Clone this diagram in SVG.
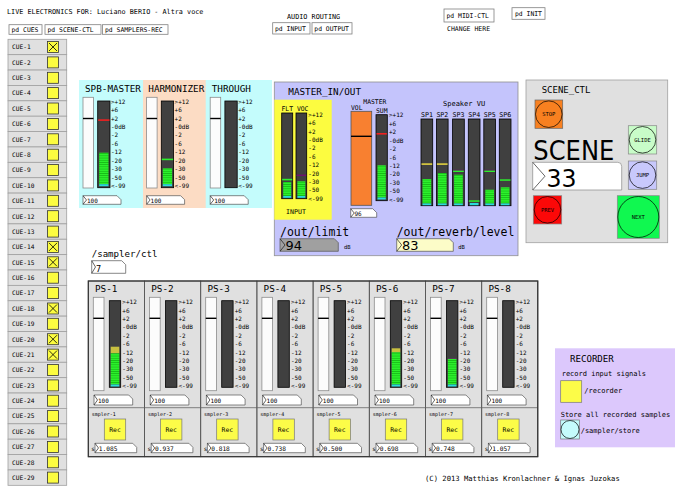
<svg xmlns="http://www.w3.org/2000/svg" width="681" height="490" viewBox="0 0 681 490">
<style>
text{font-family:"DejaVu Sans Mono","Liberation Mono",monospace;fill:#000}
.bx{fill:#fff;stroke:#808080;stroke-width:.8}
.cue{fill:#e0e0e0;stroke:#a0a0a0;stroke-width:.8}
.tg{fill:#fcfc40;stroke:#333;stroke-width:.8}
.x{stroke:#000;stroke-width:.8}
.sl{fill:#fcfcfc;stroke:#8c8c8c;stroke-width:.8}
.hd{stroke:#000;stroke-width:1.4}
.vu{fill:#404040;stroke:#000;stroke-width:.8}
.nb{fill:#fff;stroke:#555;stroke-width:.7}
.tri{fill:none;stroke:#000;stroke-width:.6}
.sc{font-size:6px}
.s6{font-size:6px}
.s7{font-size:7px}
.s9{font-size:9.3px}
.gr{fill:url(#g)}
.cy{fill:#28dcdc}
.big{font-family:"DejaVu Sans",sans-serif}
</style>
<defs>
<pattern id="g" width="6" height="2.2" patternUnits="userSpaceOnUse"><rect width="6" height="2.2" fill="#14b814"/><rect width="6" height="1.5" fill="#2cf02c"/></pattern>
</defs>

<g id="header">
<text x="7" y="13.5" style="font-size:6.8px">LIVE ELECTRONICS FOR: Luciano BERIO - Altra voce</text>
<text x="287" y="18.5" style="font-size:6.8px">AUDIO ROUTING</text>
<text x="447" y="30.5" style="font-size:6.5px">CHANGE HERE</text>
<text x="425" y="481" style="font-size:7.2px">(C) 2013 Matthias Kronlachner &amp; Ignas Juzokas</text>
</g>
<g id="pd-cues"><rect class="bx" x="9" y="24.7" width="33" height="9.6"/><text x="11.5" y="32.3" style="font-size:6.4px">pd CUES</text></g>
<g id="pd-scene"><rect class="bx" x="45" y="24.7" width="56" height="9.6"/><text x="47.5" y="32.3" style="font-size:6.4px">pd SCENE-CTL</text></g>
<g id="pd-samplers"><rect class="bx" x="102.5" y="24.7" width="65.5" height="9.6"/><text x="105" y="32.3" style="font-size:6.4px">pd SAMPLERS-REC</text></g>
<g id="pd-input"><rect class="bx" x="272.7" y="22.7" width="37.3" height="11.3"/><text x="275" y="31" style="font-size:6.4px">pd INPUT</text></g>
<g id="pd-output"><rect class="bx" x="312" y="22.7" width="40" height="11.3"/><text x="314.3" y="31" style="font-size:6.4px">pd OUTPUT</text></g>
<g id="pd-midi"><rect class="bx" x="444" y="9" width="50" height="13"/><text x="446.5" y="18" style="font-size:6.4px">pd MIDI-CTL</text></g>
<g id="pd-init"><rect class="bx" x="512" y="7.7" width="33" height="11.6"/><text x="515" y="16" style="font-size:6.4px">pd INIT</text></g>

<g id="cues" style="font-size:6.2px">
<rect class="cue" x="8" y="39.3" width="58.7" height="15.38"/><text x="12" y="49.3">CUE-1</text><rect class="tg" x="47.5" y="41.5" width="11" height="11"/><path class="x" d="M49 43l8 8M57 43l-8 8"/>
<rect class="cue" x="8" y="54.68" width="58.7" height="15.38"/><text x="12" y="64.7">CUE-2</text><rect class="tg" x="47.5" y="56.9" width="11" height="11"/>
<rect class="cue" x="8" y="70.06" width="58.7" height="15.38"/><text x="12" y="80.1">CUE-3</text><rect class="tg" x="47.5" y="72.3" width="11" height="11"/>
<rect class="cue" x="8" y="85.44" width="58.7" height="15.38"/><text x="12" y="95.4">CUE-4</text><rect class="tg" x="47.5" y="87.6" width="11" height="11"/>
<rect class="cue" x="8" y="100.82" width="58.7" height="15.38"/><text x="12" y="110.8">CUE-5</text><rect class="tg" x="47.5" y="103" width="11" height="11"/>
<rect class="cue" x="8" y="116.2" width="58.7" height="15.38"/><text x="12" y="126.2">CUE-6</text><rect class="tg" x="47.5" y="118.4" width="11" height="11"/>
<rect class="cue" x="8" y="131.58" width="58.7" height="15.38"/><text x="12" y="141.6">CUE-7</text><rect class="tg" x="47.5" y="133.8" width="11" height="11"/>
<rect class="cue" x="8" y="146.96" width="58.7" height="15.38"/><text x="12" y="157">CUE-8</text><rect class="tg" x="47.5" y="149.2" width="11" height="11"/>
<rect class="cue" x="8" y="162.34" width="58.7" height="15.38"/><text x="12" y="172.3">CUE-9</text><rect class="tg" x="47.5" y="164.5" width="11" height="11"/>
<rect class="cue" x="8" y="177.72" width="58.7" height="15.38"/><text x="12" y="187.7">CUE-10</text><rect class="tg" x="47.5" y="179.9" width="11" height="11"/>
<rect class="cue" x="8" y="193.1" width="58.7" height="15.38"/><text x="12" y="203.1">CUE-11</text><rect class="tg" x="47.5" y="195.3" width="11" height="11"/>
<rect class="cue" x="8" y="208.48" width="58.7" height="15.38"/><text x="12" y="218.5">CUE-12</text><rect class="tg" x="47.5" y="210.7" width="11" height="11"/>
<rect class="cue" x="8" y="223.86" width="58.7" height="15.38"/><text x="12" y="233.9">CUE-13</text><rect class="tg" x="47.5" y="226.1" width="11" height="11"/>
<rect class="cue" x="8" y="239.24" width="58.7" height="15.38"/><text x="12" y="249.2">CUE-14</text><rect class="tg" x="47.5" y="241.4" width="11" height="11"/><path class="x" d="M49 242.9l8 8M57 242.9l-8 8"/>
<rect class="cue" x="8" y="254.62" width="58.7" height="15.38"/><text x="12" y="264.6">CUE-15</text><rect class="tg" x="47.5" y="256.8" width="11" height="11"/><path class="x" d="M49 258.3l8 8M57 258.3l-8 8"/>
<rect class="cue" x="8" y="270" width="58.7" height="15.38"/><text x="12" y="280">CUE-16</text><rect class="tg" x="47.5" y="272.2" width="11" height="11"/>
<rect class="cue" x="8" y="285.38" width="58.7" height="15.38"/><text x="12" y="295.4">CUE-17</text><rect class="tg" x="47.5" y="287.6" width="11" height="11"/>
<rect class="cue" x="8" y="300.76" width="58.7" height="15.38"/><text x="12" y="310.8">CUE-18</text><rect class="tg" x="47.5" y="303" width="11" height="11"/><path class="x" d="M49 304.5l8 8M57 304.5l-8 8"/>
<rect class="cue" x="8" y="316.14" width="58.7" height="15.38"/><text x="12" y="326.1">CUE-19</text><rect class="tg" x="47.5" y="318.3" width="11" height="11"/>
<rect class="cue" x="8" y="331.52" width="58.7" height="15.38"/><text x="12" y="341.5">CUE-20</text><rect class="tg" x="47.5" y="333.7" width="11" height="11"/><path class="x" d="M49 335.2l8 8M57 335.2l-8 8"/>
<rect class="cue" x="8" y="346.9" width="58.7" height="15.38"/><text x="12" y="356.9">CUE-21</text><rect class="tg" x="47.5" y="349.1" width="11" height="11"/><path class="x" d="M49 350.6l8 8M57 350.6l-8 8"/>
<rect class="cue" x="8" y="362.28" width="58.7" height="15.38"/><text x="12" y="372.3">CUE-22</text><rect class="tg" x="47.5" y="364.5" width="11" height="11"/>
<rect class="cue" x="8" y="377.66" width="58.7" height="15.38"/><text x="12" y="387.7">CUE-23</text><rect class="tg" x="47.5" y="379.9" width="11" height="11"/>
<rect class="cue" x="8" y="393.04" width="58.7" height="15.38"/><text x="12" y="403">CUE-24</text><rect class="tg" x="47.5" y="395.2" width="11" height="11"/>
<rect class="cue" x="8" y="408.42" width="58.7" height="15.38"/><text x="12" y="418.4">CUE-25</text><rect class="tg" x="47.5" y="410.6" width="11" height="11"/>
<rect class="cue" x="8" y="423.8" width="58.7" height="15.38"/><text x="12" y="433.8">CUE-26</text><rect class="tg" x="47.5" y="426" width="11" height="11"/>
<rect class="cue" x="8" y="439.18" width="58.7" height="15.38"/><text x="12" y="449.2">CUE-27</text><rect class="tg" x="47.5" y="441.4" width="11" height="11"/>
<rect class="cue" x="8" y="454.56" width="58.7" height="15.38"/><text x="12" y="464.6">CUE-28</text><rect class="tg" x="47.5" y="456.8" width="11" height="11"/>
<rect class="cue" x="8" y="469.94" width="58.7" height="15.38"/><text x="12" y="479.9">CUE-29</text><rect class="tg" x="47.5" y="472.1" width="11" height="11"/>
</g>

<g id="spb-panel">
<rect x="79" y="80" width="193" height="128" fill="#c4fcfc"/>
<rect x="143" y="80" width="62.7" height="128" fill="#fcdcc4"/>
</g>
<g id="spb-master">
<text class="s9" x="85" y="91.5">SPB-MASTER</text>
<rect class="sl" x="83" y="97.3" width="10.5" height="90.7"/><line class="hd" x1="83" y1="118.5" x2="93.5" y2="118.5"/>
<rect class="vu" x="97.7" y="101" width="12.3" height="86.7"/>
<rect x="98.2" y="119.3" width="11.3" height="1.6" fill="#f02020"/>
<rect class="gr" x="99.2" y="152.7" width="9.3" height="31.5"/><rect class="cy" x="99.2" y="184.2" width="9.3" height="2"/>
<text class="sc" x="111"><tspan x="111" y="103.7">&gt;+12</tspan><tspan x="111" y="112.1">+6</tspan><tspan x="111" y="120.6">+2</tspan><tspan x="111" y="129">-0dB</tspan><tspan x="111" y="137.4">-2</tspan><tspan x="111" y="145.9">-6</tspan><tspan x="111" y="154.3">-12</tspan><tspan x="111" y="162.7">-20</tspan><tspan x="111" y="171.1">-30</tspan><tspan x="111" y="179.6">-50</tspan><tspan x="111" y="188">&lt;-99</tspan></text>
<path class="nb" d="M83 195.7h34l4 4v4.6h-38z"/><polyline class="tri" points="83,195.7 86.5,200 83,204.3"/><text class="s6" x="87" y="202.8">100</text>
</g>
<g id="harmonizer">
<text class="s9" x="148.3" y="91.5">HARMONIZER</text>
<rect class="sl" x="146.6" y="97.3" width="10.5" height="90.7"/><line class="hd" x1="146.6" y1="118.5" x2="157.1" y2="118.5"/>
<rect class="vu" x="161.3" y="101" width="12.3" height="86.7"/>
<rect x="161.8" y="158.6" width="11.3" height="1.6" fill="#2cf02c"/>
<rect class="gr" x="162.8" y="168.3" width="9.3" height="15.9"/><rect class="cy" x="162.8" y="184.2" width="9.3" height="2"/>
<text class="sc"><tspan x="174.6" y="103.7">&gt;+12</tspan><tspan x="174.6" y="112.1">+6</tspan><tspan x="174.6" y="120.6">+2</tspan><tspan x="174.6" y="129">-0dB</tspan><tspan x="174.6" y="137.4">-2</tspan><tspan x="174.6" y="145.9">-6</tspan><tspan x="174.6" y="154.3">-12</tspan><tspan x="174.6" y="162.7">-20</tspan><tspan x="174.6" y="171.1">-30</tspan><tspan x="174.6" y="179.6">-50</tspan><tspan x="174.6" y="188">&lt;-99</tspan></text>
<path class="nb" d="M146.6 195.7h34l4 4v4.6h-38z"/><polyline class="tri" points="146.6,195.7 150.1,200 146.6,204.3"/><text class="s6" x="150.6" y="202.8">100</text>
</g>
<g id="through">
<text class="s9" x="211.7" y="91.5">THROUGH</text>
<rect class="sl" x="210.2" y="97.3" width="10.5" height="90.7"/><line class="hd" x1="210.2" y1="118.5" x2="220.7" y2="118.5"/>
<rect class="vu" x="224.9" y="101" width="12.3" height="86.7"/>
<text class="sc"><tspan x="238.2" y="103.7">&gt;+12</tspan><tspan x="238.2" y="112.1">+6</tspan><tspan x="238.2" y="120.6">+2</tspan><tspan x="238.2" y="129">-0dB</tspan><tspan x="238.2" y="137.4">-2</tspan><tspan x="238.2" y="145.9">-6</tspan><tspan x="238.2" y="154.3">-12</tspan><tspan x="238.2" y="162.7">-20</tspan><tspan x="238.2" y="171.1">-30</tspan><tspan x="238.2" y="179.6">-50</tspan><tspan x="238.2" y="188">&lt;-99</tspan></text>
<path class="nb" d="M210.2 195.7h34l4 4v4.6h-38z"/><polyline class="tri" points="210.2,195.7 213.7,200 210.2,204.3"/><text class="s6" x="214.2" y="202.8">100</text>
</g>

<g id="master-panel">
<rect x="274.3" y="82" width="243.7" height="173.7" fill="#c4c4fc" stroke="#909090" stroke-width=".8"/>
<text class="s9" x="288.3" y="95">MASTER_IN/OUT</text>
</g>
<g id="input">
<rect x="274.3" y="99.7" width="57.4" height="120" fill="#fcfc40"/>
<text style="font-size:6.4px" x="281.5" y="110.8">FLT VOC</text>
<rect class="vu" x="281.7" y="113" width="11" height="85.7"/>
<rect x="282.2" y="178.8" width="10" height="1.6" fill="#2cf02c"/>
<rect class="gr" x="283.2" y="182" width="8" height="14"/><rect class="cy" x="283.2" y="196" width="8" height="1.8"/>
<rect class="vu" x="296" y="113" width="10.7" height="85.7"/>
<rect x="296.5" y="174.6" width="9.7" height="1.4" fill="#701070"/>
<rect class="gr" x="297.4" y="181.3" width="7.9" height="14.7"/><rect class="cy" x="297.4" y="196" width="7.9" height="1.8"/>
<text class="sc"><tspan x="308.3" y="116.7">&gt;+12</tspan><tspan x="308.3" y="125.1">+6</tspan><tspan x="308.3" y="133.5">+2</tspan><tspan x="308.3" y="141.9">-0dB</tspan><tspan x="308.3" y="150.3">-2</tspan><tspan x="308.3" y="158.7">-6</tspan><tspan x="308.3" y="167.1">-12</tspan><tspan x="308.3" y="175.5">-20</tspan><tspan x="308.3" y="183.9">-30</tspan><tspan x="308.3" y="192.3">-50</tspan><tspan x="308.3" y="200.7">&lt;-99</tspan></text>
<text style="font-size:6.6px" x="286" y="214.3">INPUT</text>
</g>
<g id="master-vol">
<text style="font-size:6.4px" x="363.3" y="103.5">MASTER</text>
<text style="font-size:6.4px" x="351" y="109.5">VOL</text>
<text style="font-size:6.4px" x="376" y="112.5">SUM</text>
<rect x="351" y="111.3" width="20.7" height="94" fill="#f88030" stroke="#555" stroke-width=".8"/>
<line class="hd" x1="351" y1="136.3" x2="371.7" y2="136.3"/>
<rect class="vu" x="376" y="114.7" width="11.3" height="86"/>
<rect x="376.5" y="133" width="10.3" height="1.6" fill="#f02020"/>
<rect class="gr" x="377.5" y="165.3" width="8.3" height="32.2"/><rect class="cy" x="377.5" y="197.5" width="8.3" height="2"/>
<text class="sc"><tspan x="389" y="117.3">&gt;+12</tspan><tspan x="389" y="125.7">+6</tspan><tspan x="389" y="134.2">+2</tspan><tspan x="389" y="142.6">-0dB</tspan><tspan x="389" y="151.1">-2</tspan><tspan x="389" y="159.5">-6</tspan><tspan x="389" y="167.9">-12</tspan><tspan x="389" y="176.4">-20</tspan><tspan x="389" y="184.8">-30</tspan><tspan x="389" y="193.3">-50</tspan><tspan x="389" y="201.7">&lt;-99</tspan></text>
<path class="nb" d="M350.7 208.7h22l4 4v4.6h-26z"/><polyline class="tri" points="350.7,208.7 354.2,213 350.7,217.3"/><text class="s6" x="354.5" y="215.8">96</text>
</g>
<g id="speaker-vu">
<text class="s7" x="443" y="106">Speaker VU</text>
<text style="font-size:6.6px"><tspan x="421" y="117">SP1</tspan><tspan x="436.4" y="117">SP2</tspan><tspan x="452.6" y="117">SP3</tspan><tspan x="468.3" y="117">SP4</tspan><tspan x="483.8" y="117">SP5</tspan><tspan x="499.3" y="117">SP6</tspan></text>
<rect class="vu" x="421" y="119" width="11.7" height="86.7"/>
<rect x="421.5" y="163.3" width="10.7" height="1.6" fill="#e0d040"/>
<rect class="gr" x="422.5" y="179" width="8.7" height="24.5"/><rect class="cy" x="422.5" y="203.5" width="8.7" height="1.7"/>
<rect class="vu" x="436.4" y="119" width="11.7" height="86.7"/>
<rect x="436.9" y="163.3" width="10.7" height="1.6" fill="#e0d040"/>
<rect class="gr" x="437.9" y="173" width="8.7" height="30.5"/><rect class="cy" x="437.9" y="203.5" width="8.7" height="1.7"/>
<rect class="vu" x="452.6" y="119" width="11.7" height="86.7"/>
<rect x="453.1" y="169.8" width="10.7" height="0.8" fill="#701070"/><rect x="453.1" y="170.6" width="10.7" height="1.4" fill="#2cf02c"/>
<rect class="gr" x="454.1" y="174.7" width="8.7" height="28.8"/><rect class="cy" x="454.1" y="203.5" width="8.7" height="1.7"/>
<rect class="vu" x="468.3" y="119" width="11.7" height="86.7"/>
<rect x="468.8" y="200.3" width="10.7" height="1.5" fill="#2cf02c"/><rect class="cy" x="469.8" y="203" width="8.7" height="2.2"/>
<rect class="vu" x="483.8" y="119" width="11.7" height="86.7"/>
<rect x="484.3" y="169.8" width="10.7" height="0.8" fill="#701070"/><rect x="484.3" y="170.6" width="10.7" height="1.4" fill="#2cf02c"/>
<rect class="gr" x="485.3" y="189.7" width="8.7" height="13.8"/><rect class="cy" x="485.3" y="203.5" width="8.7" height="1.7"/>
<rect class="vu" x="499.3" y="119" width="11.7" height="86.7"/>
<rect x="499.8" y="179.3" width="10.7" height="1.5" fill="#2cf02c"/>
<rect class="gr" x="500.8" y="187.3" width="8.7" height="16.2"/><rect class="cy" x="500.8" y="203.5" width="8.7" height="1.7"/>
</g>
<g id="out-limit">
<text x="280" y="235.5" style="font-size:11.5px">/out/limit</text>
<path d="M280 238.7h54.3l4 4v8.6h-58.3z" fill="#a0a0a0" stroke="#555" stroke-width=".7"/>
<polyline class="tri" points="280,238.7 285,245 280,251.3"/>
<text class="big" x="285.5" y="250" style="font-size:13px">94</text>
<text x="344" y="249" style="font-size:5.5px">dB</text>
</g>
<g id="out-reverb">
<text x="396.7" y="235.5" style="font-size:11.5px">/out/reverb/level</text>
<path d="M396.7 238.7h52.6l4 4v8.6h-56.6z" fill="#fcfcc8" stroke="#555" stroke-width=".7"/>
<polyline class="tri" points="396.7,238.7 401.7,245 396.7,251.3"/>
<text class="big" x="402" y="250" style="font-size:13px">83</text>
<text x="458.3" y="249" style="font-size:5.5px">dB</text>
</g>

<g id="scene-ctl">
<rect x="526" y="80" width="141.7" height="162.7" fill="#e0e0e0" stroke="#a0a0a0" stroke-width=".8"/>
<text x="541.7" y="93" style="font-size:9px">SCENE_CTL</text>
<text class="big" x="533.3" y="160" style="font-size:27px" textLength="81" lengthAdjust="spacingAndGlyphs">SCENE</text>
<path d="M532.7 162.3h85a4 4 0 0 1 4 4v23.7h-89z" fill="#fff" stroke="#888" stroke-width=".7"/>
<polyline class="tri" points="532.7,162.3 545,176.2 532.7,190"/>
<text class="big" x="546.5" y="187" style="font-size:24px" textLength="30" lengthAdjust="spacingAndGlyphs">33</text>
</g>
<g id="btn-stop"><rect x="535" y="100" width="27.7" height="28.3" fill="#f88020" stroke="#666" stroke-width=".7"/><circle cx="548.8" cy="114.2" r="13.3" fill="#f88020" stroke="#000" stroke-width=".7"/><text x="548.8" y="116" text-anchor="middle" style="font-size:5.5px">STOP</text></g>
<g id="btn-glide"><rect x="628.3" y="125.7" width="28.4" height="28.3" fill="#c8fcc8" stroke="#888" stroke-width=".7"/><circle cx="642.5" cy="139.8" r="13.3" fill="#c8fcc8" stroke="#000" stroke-width=".7"/><text x="642.5" y="141.8" text-anchor="middle" style="font-size:5.5px">GLIDE</text></g>
<g id="btn-jump"><rect x="628.3" y="161" width="28.4" height="28.3" fill="#c8c8fc" stroke="#888" stroke-width=".7"/><circle cx="642.5" cy="175.1" r="13.3" fill="#c8c8fc" stroke="#000" stroke-width=".7"/><text x="642.5" y="177.1" text-anchor="middle" style="font-size:5.5px">JUMP</text></g>
<g id="btn-prev"><rect x="533.3" y="195.7" width="28.4" height="28.3" fill="#fc0808" stroke="#888" stroke-width=".7"/><circle cx="547.5" cy="209.8" r="13.3" fill="#fc0808" stroke="#000" stroke-width=".7"/><text x="547.5" y="211.8" text-anchor="middle" style="font-size:5.5px">PREV</text></g>
<g id="btn-next"><rect x="617.3" y="195.7" width="42" height="42.6" fill="#10f850" stroke="#888" stroke-width=".7"/><circle cx="638.3" cy="217" r="20.5" fill="#10f850" stroke="#000" stroke-width=".7"/><text x="638.3" y="219" text-anchor="middle" style="font-size:5.5px">NEXT</text></g>

<g id="sampler-ctl">
<text x="91.7" y="256.5" style="font-size:9.1px">/sampler/ctl</text>
<path class="nb" d="M91.7 260.7h30l4 4v8.6h-34z"/><polyline class="tri" points="91.7,260.7 95.5,267 91.7,273.3"/>
<text x="96" y="271.5" style="font-size:8.5px">7</text>
</g>

<g id="ps-panel"><rect x="88.3" y="281" width="449.4" height="175.7" fill="#e0e0e0"/></g>
<g id="ps1" transform="translate(88.3 0)">
<rect x="0" y="281" width="56.2" height="175.7" fill="none" stroke="#555" stroke-width=".8"/><line x1="0" y1="407.7" x2="56.2" y2="407.7" stroke="#666" stroke-width=".8"/>
<text class="s9" x="6.7" y="291.8">PS-1</text>
<rect class="sl" x="5" y="297.3" width="10.7" height="93.4"/><line class="hd" x1="5" y1="318.3" x2="15.7" y2="318.3"/>
<rect class="vu" x="21" y="300.7" width="11.4" height="86.6"/>
<rect x="22.4" y="346.7" width="8.6" height="6.6" fill="#c8c040"/><rect class="gr" x="22.4" y="353.3" width="8.6" height="31.2"/><rect class="cy" x="22.4" y="384.5" width="8.6" height="2"/>
<text class="sc"><tspan x="34" y="304.3">&gt;+12</tspan><tspan x="34" y="312.7">+6</tspan><tspan x="34" y="321">+2</tspan><tspan x="34" y="329.4">-0dB</tspan><tspan x="34" y="337.8">-2</tspan><tspan x="34" y="346.1">-6</tspan><tspan x="34" y="354.5">-12</tspan><tspan x="34" y="362.9">-20</tspan><tspan x="34" y="371.3">-30</tspan><tspan x="34" y="379.6">-50</tspan><tspan x="34" y="388">&lt;-99</tspan></text>
<path class="nb" d="M5.7 395h34.7l4 4v6h-38.7z"/><polyline class="tri" points="5.7,395 9.2,400 5.7,405"/><text class="s6" x="9.7" y="402.8">100</text>
<text x="3.4" y="416" style="font-size:5px">smpler-1</text>
<rect x="16" y="419" width="21.4" height="21" fill="#fcfc48" stroke="#777" stroke-width=".7"/><text x="26.7" y="431.5" text-anchor="middle" style="font-size:6.4px">Rec</text>
<text x="3" y="450.5" style="font-size:6px">s</text>
<path class="nb" d="M6.7 443.3h37.7l4 4v5.4h-41.7z"/><polyline class="tri" points="6.7,443.3 10.2,448 6.7,452.7"/><text x="10.5" y="450.7" style="font-size:6.2px">1.085</text>
</g>
<g id="ps2" transform="translate(144.5 0)">
<rect x="0" y="281" width="56.2" height="175.7" fill="none" stroke="#555" stroke-width=".8"/><line x1="0" y1="407.7" x2="56.2" y2="407.7" stroke="#666" stroke-width=".8"/>
<text class="s9" x="6.7" y="291.8">PS-2</text>
<rect class="sl" x="5" y="297.3" width="10.7" height="93.4"/><line class="hd" x1="5" y1="318.3" x2="15.7" y2="318.3"/>
<rect class="vu" x="21" y="300.7" width="11.4" height="86.6"/>
<text class="sc"><tspan x="34" y="304.3">&gt;+12</tspan><tspan x="34" y="312.7">+6</tspan><tspan x="34" y="321">+2</tspan><tspan x="34" y="329.4">-0dB</tspan><tspan x="34" y="337.8">-2</tspan><tspan x="34" y="346.1">-6</tspan><tspan x="34" y="354.5">-12</tspan><tspan x="34" y="362.9">-20</tspan><tspan x="34" y="371.3">-30</tspan><tspan x="34" y="379.6">-50</tspan><tspan x="34" y="388">&lt;-99</tspan></text>
<path class="nb" d="M5.7 395h34.7l4 4v6h-38.7z"/><polyline class="tri" points="5.7,395 9.2,400 5.7,405"/><text class="s6" x="9.7" y="402.8">100</text>
<text x="3.4" y="416" style="font-size:5px">smpler-2</text>
<rect x="16" y="419" width="21.4" height="21" fill="#fcfc48" stroke="#777" stroke-width=".7"/><text x="26.7" y="431.5" text-anchor="middle" style="font-size:6.4px">Rec</text>
<text x="3" y="450.5" style="font-size:6px">s</text>
<path class="nb" d="M6.7 443.3h37.7l4 4v5.4h-41.7z"/><polyline class="tri" points="6.7,443.3 10.2,448 6.7,452.7"/><text x="10.5" y="450.7" style="font-size:6.2px">0.937</text>
</g>
<g id="ps3" transform="translate(200.7 0)">
<rect x="0" y="281" width="56.2" height="175.7" fill="none" stroke="#555" stroke-width=".8"/><line x1="0" y1="407.7" x2="56.2" y2="407.7" stroke="#666" stroke-width=".8"/>
<text class="s9" x="6.7" y="291.8">PS-3</text>
<rect class="sl" x="5" y="297.3" width="10.7" height="93.4"/><line class="hd" x1="5" y1="318.3" x2="15.7" y2="318.3"/>
<rect class="vu" x="21" y="300.7" width="11.4" height="86.6"/>
<text class="sc"><tspan x="34" y="304.3">&gt;+12</tspan><tspan x="34" y="312.7">+6</tspan><tspan x="34" y="321">+2</tspan><tspan x="34" y="329.4">-0dB</tspan><tspan x="34" y="337.8">-2</tspan><tspan x="34" y="346.1">-6</tspan><tspan x="34" y="354.5">-12</tspan><tspan x="34" y="362.9">-20</tspan><tspan x="34" y="371.3">-30</tspan><tspan x="34" y="379.6">-50</tspan><tspan x="34" y="388">&lt;-99</tspan></text>
<path class="nb" d="M5.7 395h34.7l4 4v6h-38.7z"/><polyline class="tri" points="5.7,395 9.2,400 5.7,405"/><text class="s6" x="9.7" y="402.8">100</text>
<text x="3.4" y="416" style="font-size:5px">smpler-3</text>
<rect x="16" y="419" width="21.4" height="21" fill="#fcfc48" stroke="#777" stroke-width=".7"/><text x="26.7" y="431.5" text-anchor="middle" style="font-size:6.4px">Rec</text>
<text x="3" y="450.5" style="font-size:6px">s</text>
<path class="nb" d="M6.7 443.3h37.7l4 4v5.4h-41.7z"/><polyline class="tri" points="6.7,443.3 10.2,448 6.7,452.7"/><text x="10.5" y="450.7" style="font-size:6.2px">0.818</text>
</g>
<g id="ps4" transform="translate(256.9 0)">
<rect x="0" y="281" width="56.2" height="175.7" fill="none" stroke="#555" stroke-width=".8"/><line x1="0" y1="407.7" x2="56.2" y2="407.7" stroke="#666" stroke-width=".8"/>
<text class="s9" x="6.7" y="291.8">PS-4</text>
<rect class="sl" x="5" y="297.3" width="10.7" height="93.4"/><line class="hd" x1="5" y1="318.3" x2="15.7" y2="318.3"/>
<rect class="vu" x="21" y="300.7" width="11.4" height="86.6"/>
<text class="sc"><tspan x="34" y="304.3">&gt;+12</tspan><tspan x="34" y="312.7">+6</tspan><tspan x="34" y="321">+2</tspan><tspan x="34" y="329.4">-0dB</tspan><tspan x="34" y="337.8">-2</tspan><tspan x="34" y="346.1">-6</tspan><tspan x="34" y="354.5">-12</tspan><tspan x="34" y="362.9">-20</tspan><tspan x="34" y="371.3">-30</tspan><tspan x="34" y="379.6">-50</tspan><tspan x="34" y="388">&lt;-99</tspan></text>
<path class="nb" d="M5.7 395h34.7l4 4v6h-38.7z"/><polyline class="tri" points="5.7,395 9.2,400 5.7,405"/><text class="s6" x="9.7" y="402.8">100</text>
<text x="3.4" y="416" style="font-size:5px">smpler-4</text>
<rect x="16" y="419" width="21.4" height="21" fill="#fcfc48" stroke="#777" stroke-width=".7"/><text x="26.7" y="431.5" text-anchor="middle" style="font-size:6.4px">Rec</text>
<text x="3" y="450.5" style="font-size:6px">s</text>
<path class="nb" d="M6.7 443.3h37.7l4 4v5.4h-41.7z"/><polyline class="tri" points="6.7,443.3 10.2,448 6.7,452.7"/><text x="10.5" y="450.7" style="font-size:6.2px">0.738</text>
</g>
<g id="ps5" transform="translate(313.1 0)">
<rect x="0" y="281" width="56.2" height="175.7" fill="none" stroke="#555" stroke-width=".8"/><line x1="0" y1="407.7" x2="56.2" y2="407.7" stroke="#666" stroke-width=".8"/>
<text class="s9" x="6.7" y="291.8">PS-5</text>
<rect class="sl" x="5" y="297.3" width="10.7" height="93.4"/><line class="hd" x1="5" y1="318.3" x2="15.7" y2="318.3"/>
<rect class="vu" x="21" y="300.7" width="11.4" height="86.6"/>
<text class="sc"><tspan x="34" y="304.3">&gt;+12</tspan><tspan x="34" y="312.7">+6</tspan><tspan x="34" y="321">+2</tspan><tspan x="34" y="329.4">-0dB</tspan><tspan x="34" y="337.8">-2</tspan><tspan x="34" y="346.1">-6</tspan><tspan x="34" y="354.5">-12</tspan><tspan x="34" y="362.9">-20</tspan><tspan x="34" y="371.3">-30</tspan><tspan x="34" y="379.6">-50</tspan><tspan x="34" y="388">&lt;-99</tspan></text>
<path class="nb" d="M5.7 395h34.7l4 4v6h-38.7z"/><polyline class="tri" points="5.7,395 9.2,400 5.7,405"/><text class="s6" x="9.7" y="402.8">100</text>
<text x="3.4" y="416" style="font-size:5px">smpler-5</text>
<rect x="16" y="419" width="21.4" height="21" fill="#fcfc48" stroke="#777" stroke-width=".7"/><text x="26.7" y="431.5" text-anchor="middle" style="font-size:6.4px">Rec</text>
<text x="3" y="450.5" style="font-size:6px">s</text>
<path class="nb" d="M6.7 443.3h37.7l4 4v5.4h-41.7z"/><polyline class="tri" points="6.7,443.3 10.2,448 6.7,452.7"/><text x="10.5" y="450.7" style="font-size:6.2px">0.500</text>
</g>
<g id="ps6" transform="translate(369.3 0)">
<rect x="0" y="281" width="56.2" height="175.7" fill="none" stroke="#555" stroke-width=".8"/><line x1="0" y1="407.7" x2="56.2" y2="407.7" stroke="#666" stroke-width=".8"/>
<text class="s9" x="6.7" y="291.8">PS-6</text>
<rect class="sl" x="5" y="297.3" width="10.7" height="93.4"/><line class="hd" x1="5" y1="318.3" x2="15.7" y2="318.3"/>
<rect class="vu" x="21" y="300.7" width="11.4" height="86.6"/>
<rect x="22.4" y="348.3" width="8.6" height="4" fill="#c8c040"/><rect class="gr" x="22.4" y="352.3" width="8.6" height="32.2"/><rect class="cy" x="22.4" y="384.5" width="8.6" height="2"/>
<text class="sc"><tspan x="34" y="304.3">&gt;+12</tspan><tspan x="34" y="312.7">+6</tspan><tspan x="34" y="321">+2</tspan><tspan x="34" y="329.4">-0dB</tspan><tspan x="34" y="337.8">-2</tspan><tspan x="34" y="346.1">-6</tspan><tspan x="34" y="354.5">-12</tspan><tspan x="34" y="362.9">-20</tspan><tspan x="34" y="371.3">-30</tspan><tspan x="34" y="379.6">-50</tspan><tspan x="34" y="388">&lt;-99</tspan></text>
<path class="nb" d="M5.7 395h34.7l4 4v6h-38.7z"/><polyline class="tri" points="5.7,395 9.2,400 5.7,405"/><text class="s6" x="9.7" y="402.8">100</text>
<text x="3.4" y="416" style="font-size:5px">smpler-6</text>
<rect x="16" y="419" width="21.4" height="21" fill="#fcfc48" stroke="#777" stroke-width=".7"/><text x="26.7" y="431.5" text-anchor="middle" style="font-size:6.4px">Rec</text>
<text x="3" y="450.5" style="font-size:6px">s</text>
<path class="nb" d="M6.7 443.3h37.7l4 4v5.4h-41.7z"/><polyline class="tri" points="6.7,443.3 10.2,448 6.7,452.7"/><text x="10.5" y="450.7" style="font-size:6.2px">0.698</text>
</g>
<g id="ps7" transform="translate(425.5 0)">
<rect x="0" y="281" width="56.2" height="175.7" fill="none" stroke="#555" stroke-width=".8"/><line x1="0" y1="407.7" x2="56.2" y2="407.7" stroke="#666" stroke-width=".8"/>
<text class="s9" x="6.7" y="291.8">PS-7</text>
<rect class="sl" x="5" y="297.3" width="10.7" height="93.4"/><line class="hd" x1="5" y1="318.3" x2="15.7" y2="318.3"/>
<rect class="vu" x="21" y="300.7" width="11.4" height="86.6"/>
<rect x="22.4" y="358" width="8.6" height="0.8" fill="#701070"/><rect class="gr" x="22.4" y="358.8" width="8.6" height="25.7"/><rect class="cy" x="22.4" y="384.5" width="8.6" height="2"/>
<text class="sc"><tspan x="34" y="304.3">&gt;+12</tspan><tspan x="34" y="312.7">+6</tspan><tspan x="34" y="321">+2</tspan><tspan x="34" y="329.4">-0dB</tspan><tspan x="34" y="337.8">-2</tspan><tspan x="34" y="346.1">-6</tspan><tspan x="34" y="354.5">-12</tspan><tspan x="34" y="362.9">-20</tspan><tspan x="34" y="371.3">-30</tspan><tspan x="34" y="379.6">-50</tspan><tspan x="34" y="388">&lt;-99</tspan></text>
<path class="nb" d="M5.7 395h34.7l4 4v6h-38.7z"/><polyline class="tri" points="5.7,395 9.2,400 5.7,405"/><text class="s6" x="9.7" y="402.8">100</text>
<text x="3.4" y="416" style="font-size:5px">smpler-7</text>
<rect x="16" y="419" width="21.4" height="21" fill="#fcfc48" stroke="#777" stroke-width=".7"/><text x="26.7" y="431.5" text-anchor="middle" style="font-size:6.4px">Rec</text>
<text x="3" y="450.5" style="font-size:6px">s</text>
<path class="nb" d="M6.7 443.3h37.7l4 4v5.4h-41.7z"/><polyline class="tri" points="6.7,443.3 10.2,448 6.7,452.7"/><text x="10.5" y="450.7" style="font-size:6.2px">0.748</text>
</g>
<g id="ps8" transform="translate(481.7 0)">
<rect x="0" y="281" width="56.2" height="175.7" fill="none" stroke="#555" stroke-width=".8"/><line x1="0" y1="407.7" x2="56.2" y2="407.7" stroke="#666" stroke-width=".8"/>
<text class="s9" x="6.7" y="291.8">PS-8</text>
<rect class="sl" x="5" y="297.3" width="10.7" height="93.4"/><line class="hd" x1="5" y1="318.3" x2="15.7" y2="318.3"/>
<rect class="vu" x="21" y="300.7" width="11.4" height="86.6"/>
<text class="sc"><tspan x="34" y="304.3">&gt;+12</tspan><tspan x="34" y="312.7">+6</tspan><tspan x="34" y="321">+2</tspan><tspan x="34" y="329.4">-0dB</tspan><tspan x="34" y="337.8">-2</tspan><tspan x="34" y="346.1">-6</tspan><tspan x="34" y="354.5">-12</tspan><tspan x="34" y="362.9">-20</tspan><tspan x="34" y="371.3">-30</tspan><tspan x="34" y="379.6">-50</tspan><tspan x="34" y="388">&lt;-99</tspan></text>
<path class="nb" d="M5.7 395h34.7l4 4v6h-38.7z"/><polyline class="tri" points="5.7,395 9.2,400 5.7,405"/><text class="s6" x="9.7" y="402.8">100</text>
<text x="3.4" y="416" style="font-size:5px">smpler-8</text>
<rect x="16" y="419" width="21.4" height="21" fill="#fcfc48" stroke="#777" stroke-width=".7"/><text x="26.7" y="431.5" text-anchor="middle" style="font-size:6.4px">Rec</text>
<text x="3" y="450.5" style="font-size:6px">s</text>
<path class="nb" d="M6.7 443.3h37.7l4 4v5.4h-41.7z"/><polyline class="tri" points="6.7,443.3 10.2,448 6.7,452.7"/><text x="10.5" y="450.7" style="font-size:6.2px">1.057</text>
</g>
<g id="ps-frame"><rect x="88.3" y="281" width="449.4" height="175.7" fill="none" stroke="#333" stroke-width="1.2"/></g>

<g id="recorder">
<rect x="555" y="348.3" width="120" height="99" fill="#dcc8fc"/>
<text x="570" y="361.5" style="font-size:9.1px">RECORDER</text>
<text x="561.7" y="376" class="s7">record input signals</text>
<rect x="560.7" y="380.7" width="21" height="21.6" fill="#fcfc48" stroke="#777" stroke-width=".7"/>
<text x="584.3" y="393" class="s7">/recorder</text>
<text x="560.7" y="416.5" class="s7">Store all recorded samples</text>
<rect x="560.7" y="420" width="18.6" height="19" fill="#c4fcfc" stroke="#777" stroke-width=".7"/>
<circle cx="570" cy="429.5" r="9" fill="#c4fcfc" stroke="#000" stroke-width=".7"/>
<text x="580.7" y="432.5" class="s7">/sampler/store</text>
</g>
<g id="connectors"></g>
</svg>
